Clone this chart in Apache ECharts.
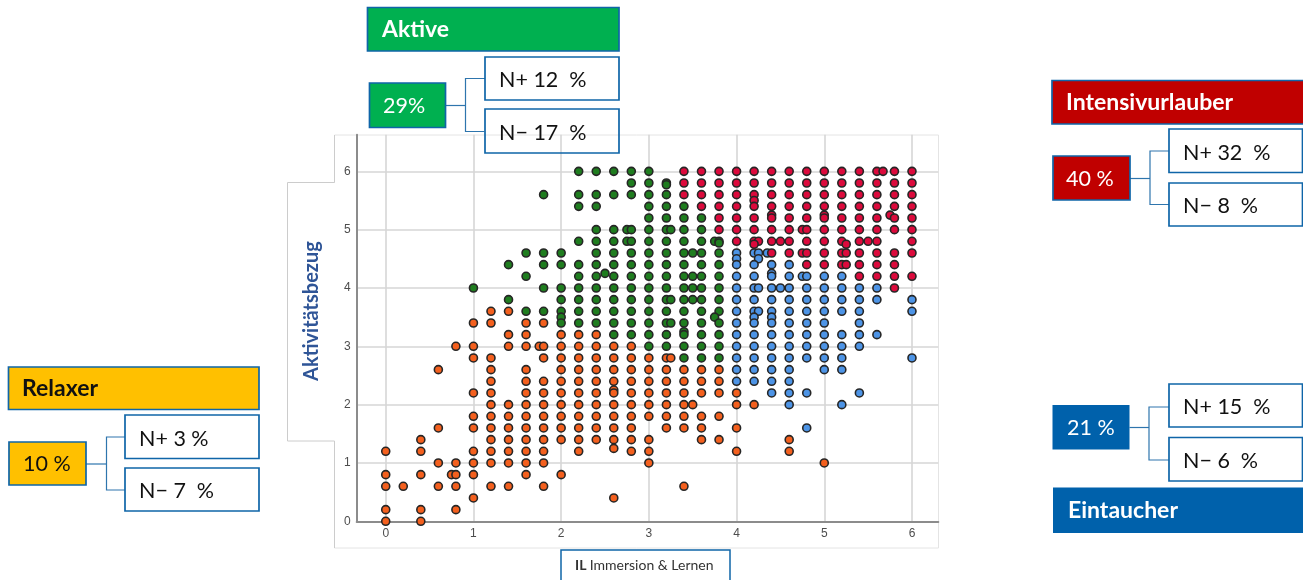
<!DOCTYPE html>
<html><head><meta charset="utf-8">
<style>html,body{margin:0;padding:0;background:#fff}#c{width:1303px;height:580px;filter:blur(0.35px)}</style>
<script src="https://cdn.jsdelivr.net/npm/echarts@6/dist/echarts.min.js"></script>
</head><body><div id="c"></div>
<script>
const xTicks = [0,1,2,3,4,5,6];
const yTicks = [0,1,2,3,4,5,6];
const axisNameY = 'Aktivitätsbezug';

// each row: [y, [x values]]
const orangeRows = [
 [3.6,[1.2,1.4]],
 [3.4,[1,1.2,1.6,1.8]],
 [3.2,[1.4,1.6,2,2.2,2.4]],
 [3,[0.8,1,1.4,1.6,1.75,1.8,2,2.2,2.4,2.6,2.8]],
 [2.8,[1,1.2,1.8,2,2.2,2.4,2.6,2.8,3,3.2,3.25]],
 [2.6,[0.6,1.2,1.6,2,2.2,2.4,2.6,2.8,3,3.2,3.4,3.6,3.8]],
 [2.4,[1.2,1.6,1.8,2,2.2,2.4,2.6,2.8,3,3.2,3.4,3.6,3.8]],
 [2.25,[2.6]],
 [2.2,[1,1.2,1.6,1.8,2,2.2,2.4,2.6,2.8,3,3.2,3.4,3.6,3.8,4]],
 [2,[1.2,1.4,1.6,1.8,2,2.2,2.4,2.6,2.8,3,3.2,3.4,3.5,4,4.2]],
 [1.8,[1,1.2,1.4,1.6,1.8,2,2.2,2.4,2.6,2.8,3,3.2,3.4,3.6,3.8]],
 [1.6,[0.6,1,1.2,1.4,1.6,1.8,2,2.2,2.4,2.6,2.8,3.2,3.4,3.6,4]],
 [1.4,[0.4,1.2,1.4,1.6,1.8,2,2.2,2.4,2.6,2.8,3,3.6,3.8,4.6]],
 [1.25,[2.6]],
 [1.2,[0,0.4,1,1.2,1.4,1.6,1.8,2.2,2.8,3,4,4.6]],
 [1,[0.6,0.8,1,1.2,1.4,1.6,1.8,3,5]],
 [0.8,[0,0.4,0.75,0.8,1,1.6,2]],
 [0.6,[0,0.2,0.6,0.8,1.2,1.4,1.8,3.4]],
 [0.4,[1,2.6]],
 [0.2,[0,0.4,0.8]],
 [0,[0,0.4]]
];
const greenRows = [
 [6,[2.2,2.4,2.6,2.8,3]],
 [5.8,[2.8,3,3.2]],
 [5.77,[3.2]],
 [5.6,[1.8,2.2,2.4,2.6,2.8,3,3.2]],
 [5.4,[2.2,2.4,3,3.2,3.4]],
 [5.2,[3,3.2,3.4,3.6]],
 [5,[2.4,2.6,2.75,2.8,3,3.2,3.25,3.4,3.6]],
 [4.8,[2.2,2.4,2.6,2.75,2.8,3,3.2,3.4,3.6,3.75,3.8]],
 [4.77,[3.8]],
 [4.6,[1.6,1.8,2,2.4,2.6,2.8,3,3.2,3.4,3.5,3.6,3.8]],
 [4.4,[1.4,1.8,2,2.2,2.4,2.6,2.8,3,3.2,3.4,3.6,3.8]],
 [4.25,[2.5]],
 [4.2,[1.6,2.2,2.4,2.6,2.8,3,3.2,3.4,3.5,3.6,3.8]],
 [4,[1,1.8,2,2.2,2.4,2.6,2.8,3,3.2,3.4,3.5,3.6,3.8]],
 [3.8,[1.4,2,2.2,2.4,2.6,2.8,3,3.2,3.25,3.4,3.5,3.6,3.8]],
 [3.6,[1.6,1.8,2,2.2,2.4,2.6,2.8,3,3.2,3.4,3.6,3.8]],
 [3.5,[2,3.75]],
 [3.4,[2,2.2,2.4,2.6,2.8,3,3.2,3.25,3.4,3.6,3.8]],
 [3.25,[3.4]],
 [3.2,[2.6,2.8,3,3.2,3.4,3.6,3.8]],
 [3,[3,3.2,3.4,3.6,3.8]],
 [2.8,[3.4,3.6,3.8]]
];
const blueRows = [
 [4.6,[4,4.2,4.25,4.35]],
 [4.5,[4,4.25]],
 [4.4,[4,4.2,4.4,4.6]],
 [4.25,[4.4]],
 [4.2,[4,4.2,4.4,4.6,4.75,4.8,5,5.2]],
 [4,[4,4.2,4.25,4.4,4.5,4.6,4.8,5,5.2,5.4,5.6]],
 [3.8,[4,4.2,4.4,4.6,4.8,5,5.2,5.4,5.6,6]],
 [3.6,[4,4.2,4.25,4.4,4.6,4.8,5,5.2,5.4,6]],
 [3.5,[4.2,4.4]],
 [3.4,[4,4.2,4.4,4.6,4.8,5,5.4]],
 [3.2,[4,4.2,4.4,4.6,4.8,5,5.2,5.4,5.6]],
 [3,[4,4.2,4.4,4.6,4.8,5,5.2,5.4]],
 [2.8,[4,4.2,4.4,4.6,4.8,5,5.2,6]],
 [2.6,[4,4.2,4.4,4.6,5,5.2]],
 [2.4,[4,4.2,4.4,4.6]],
 [2.2,[4.4,4.6,4.8,5.4]],
 [2,[4.6,5.2]],
 [1.6,[4.8]]
];
const redRows = [
 [6,[3.4,3.6,3.8,4,4.2,4.4,4.6,4.8,5,5.2,5.4,5.6,5.67,5.8,6]],
 [5.8,[3.4,3.6,3.8,4,4.2,4.4,4.6,4.8,5,5.2,5.4,5.6,5.8,6]],
 [5.6,[3.4,3.6,3.8,4,4.2,4.4,4.6,4.8,5,5.2,5.4,5.6,5.8,6]],
 [5.5,[4.2]],
 [5.4,[3.6,3.8,4,4.2,4.4,4.6,4.8,5,5.2,5.4,5.6,5.8,6]],
 [5.25,[4.4,5,5.75]],
 [5.2,[3.8,4,4.2,4.4,4.6,4.8,5,5.2,5.4,5.6,5.8,6]],
 [5,[3.8,4,4.2,4.4,4.6,4.75,4.8,5,5.2,5.4,5.6,5.8,6]],
 [4.8,[4,4.2,4.25,4.4,4.5,4.6,4.8,5,5.2,5.4,5.5,5.6,6]],
 [4.75,[4.2,5.25]],
 [4.6,[4.4,4.6,4.75,4.8,5,5.2,5.25,5.4,5.6,5.8,6]],
 [4.4,[4.8,5,5.2,5.25,5.4,5.6,5.8]],
 [4.2,[5.4,5.6,5.8,6]],
 [4,[5.8]]
];
const boxes = [
 {name:'Aktive', fill:'#00b050', color:'#fff', bold:true, box:[367.5,7.5,619,51], tx:382},
 {name:'29%', fill:'#00b050', color:'#fff', box:[369.5,83,445.5,127.5], tx:383},
 {name:'N+ 12  %', fill:'#fff', color:'#111', box:[485,57,619,100], tx:499},
 {name:'N\u2212 17  %', fill:'transparent', color:'#111', box:[485,109,619,153], tx:499},
 {name:'Intensivurlauber', fill:'#c00000', color:'#fff', bold:true, box:[1052,80.5,1304,124], tx:1066},
 {name:'40 %', fill:'#c00000', color:'#fff', box:[1053,156,1130,200], tx:1066},
 {name:'N+ 32  %', fill:'#fff', color:'#111', box:[1169,129,1302.5,172.5], tx:1183},
 {name:'N\u2212 8  %', fill:'#fff', color:'#111', box:[1169,183,1302.5,226], tx:1183},
 {name:'21 %', fill:'#0061ab', color:'#fff', noStroke:true, box:[1052.5,405,1129.5,449.5], tx:1067},
 {name:'N+ 15  %', fill:'#fff', color:'#111', box:[1169,384,1302.5,427], tx:1183},
 {name:'N\u2212 6  %', fill:'#fff', color:'#111', box:[1169,437.5,1302.5,481], tx:1183},
 {name:'Eintaucher', fill:'#0061ab', color:'#fff', bold:true, noStroke:true, box:[1053,487.5,1304,533], tx:1068},
 {name:'Relaxer', fill:'#ffc000', color:'#111', bold:true, box:[8.5,367,259,409.5], tx:22},
 {name:'10 %', fill:'#ffc000', color:'#111', box:[9,442,86,485], tx:23},
 {name:'N+ 3 %', fill:'#fff', color:'#111', box:[125,415,259,458.5], tx:139},
 {name:'N\u2212 7  %', fill:'#fff', color:'#111', box:[125,468,259,511], tx:139}
];
const connectors = [
 [[445.5,105.5],[465.5,105.5]], [[485,78.5],[465.5,78.5],[465.5,131.5],[485,131.5]],
 [[1130,178.5],[1150,178.5]], [[1169,151],[1150,151],[1150,204.5],[1169,204.5]],
 [[1129.5,427.5],[1149,427.5]], [[1169,407],[1149,407],[1149,460],[1169,460]],
 [[86,464],[106.5,464]], [[125,437],[106.5,437],[106.5,490],[125,490]]
];
const FONT = 'Lato, "Open Sans", sans-serif';
const expand = rows => rows.flatMap(([y,xs]) => xs.map(x => [x,y]));
const graphics = [];
// picture frame behind the scatter
graphics.push({type:'polyline', silent:true, z:-2, shape:{points:[[334.5,182.5],[334.5,135],[938.5,135],[938.5,548],[334.5,548],[334.5,441]]}, style:{stroke:'#e4e4e4',lineWidth:1,fill:null}});
graphics.push({type:'polyline', silent:true, z:-1, shape:{points:[[334.5,135],[334.5,182.5],[287.5,182.5],[287.5,441],[334.5,441],[334.5,548]]}, style:{stroke:'#cccccc',lineWidth:1,fill:null}});
connectors.forEach(p => graphics.push({type:'polyline', silent:true, z:3, shape:{points:p}, style:{stroke:'#2e75ad',lineWidth:1.2,fill:null}}));
boxes.forEach(b => {
  const [x0,y0,x1,y1] = b.box;
  const dy = b.bold ? 0 : (b.color === '#111' && b.fill !== '#ffc000' ? 2 : 1);
  graphics.push({type:'rect', silent:true, z:b.fill==='transparent'?1:4, shape:{x:x0,y:y0,width:x1-x0,height:y1-y0},
    style:{fill:b.fill, stroke:b.noStroke?null:'#0f65a8', lineWidth:b.noStroke?0:1.7}});
  graphics.push({type:'text', silent:true, z:5, x:b.tx, y:(y0+y1)/2+dy, style:{text:b.name, fill:b.color, font:(b.bold?'bold 23px ':'21.5px ')+FONT, verticalAlign:'middle', align:'left'}});
});
// rotated y-axis title
graphics.push({type:'text', silent:true, z:5, x:312, y:311, rotation:Math.PI/2, style:{text:axisNameY, fill:'#2f5597', font:'bold 20px '+FONT, verticalAlign:'middle', align:'center'}});
// x-axis title box
graphics.push({type:'rect', silent:true, z:4, shape:{x:561,y:550,width:169,height:36}, style:{fill:'#fff',stroke:'#0f65a8',lineWidth:1.5}});
graphics.push({type:'text', silent:true, z:5, x:575, y:565, style:{rich:{b:{font:'bold 14px '+FONT,fill:'#333'},n:{font:'14px '+FONT,fill:'#333'}}, text:'{b|IL} {n|Immersion & Lernen}', verticalAlign:'middle', align:'left'}});

const dot = (name,color,rows) => ({name,type:'scatter',data:expand(rows),symbol:'circle',symbolSize:8,clip:false,
  itemStyle:{color,borderColor:'#262626',borderWidth:1.6,opacity:1},emphasis:{disabled:true}});
const tickStyle = {color:'#4d4d4d',fontFamily:'"Liberation Sans",sans-serif',fontSize:12};
const chart = echarts.init(document.getElementById('c'),null,{renderer:'canvas'});
chart.setOption({
  animation:false, backgroundColor:'#fff',
  grid:{left:356.7,right:364.7,top:134.7,bottom:58.7,containLabel:false},
  xAxis:{type:'value',min:-0.331,max:6.3,
    axisLine:{onZero:false,lineStyle:{color:'#8c8c8c',width:2}},
    axisTick:{show:false,customValues:xTicks},
    axisLabel:Object.assign({customValues:xTicks,margin:6,showMinLabel:true,showMaxLabel:true},tickStyle),
    splitLine:{show:true,lineStyle:{color:'#d6d6d6',width:1.6}}},
  yAxis:{type:'value',min:0,max:6.628,
    axisLine:{onZero:false,lineStyle:{color:'#8c8c8c',width:2}},
    axisTick:{show:false,customValues:yTicks},
    axisLabel:Object.assign({customValues:yTicks,margin:6,padding:[3,0,0,0]},tickStyle),
    splitLine:{show:true,lineStyle:{color:'#d6d6d6',width:1.6}}},
  series:[dot('Relaxer','#f4601e',orangeRows),dot('Aktive','#1f7d1f',greenRows),dot('Eintaucher','#4d94e6',blueRows),dot('Intensivurlauber','#dc0a3c',redRows)],
  graphic:{elements:graphics}
});
</script></body></html>
